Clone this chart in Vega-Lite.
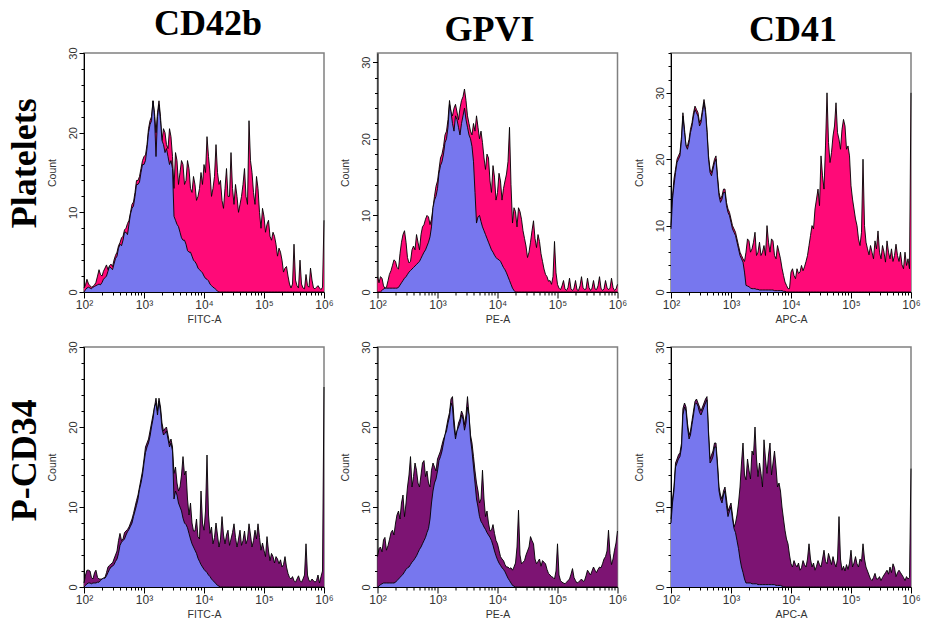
{
  "$schema": "https://vega.github.io/schema/vega-lite/v6.json",
  "background": "white",
  "padding": {"left": 7, "top": 5, "right": 0, "bottom": 0},
  "config": {
    "view": {"stroke": "#808080", "strokeWidth": 1.5},
    "title": {"font": "Liberation Serif", "fontSize": 36, "fontWeight": "bold", "color": "#000", "offset": 4},
    "area": {"opacity": 1, "fillOpacity": 1},
    "axis": {"grid": false, "labelFont": "Liberation Sans", "titleFont": "Liberation Sans", "labelFontSize": 12, "titleFontSize": 10.5, "titleFontWeight": "normal", "labelColor": "#333", "titleColor": "#333", "domainColor": "#000", "tickColor": "#000", "labelOverlap": false, "labelFlush": false},
    "axisY": {"labelAngle": 270, "labelAlign": "center", "labelBaseline": "bottom", "labelPadding": 1, "titlePadding": 10, "labelFontSize": 11},
    "axisX": {"labelPadding": 1, "titlePadding": 4}
  },
  "datasets": {
    "p1": [
      {"x":100,"c":0,"s":0.5},{"x":106,"c":0.3,"s":0.9},{"x":112,"c":0.5,"s":1.6},{"x":119,"c":0.6,"s":1},{"x":126,"c":0.5,"s":0.8},{"x":133,"c":0.4,"s":0.6},{"x":141,"c":0.6,"s":0.7},{"x":150,"c":0.7,"s":0.9},{"x":158,"c":0.8,"s":1.2},{"x":168,"c":0.9,"s":2},
      {"x":178,"c":1,"s":2.8},{"x":188,"c":0.9,"s":2.2},{"x":200,"c":1.2,"s":2},{"x":211,"c":1.6,"s":2.6},{"x":224,"c":1.8,"s":3},{"x":237,"c":2,"s":3.4},{"x":251,"c":2.6,"s":2.8},{"x":266,"c":3.2,"s":3.3},{"x":282,"c":3,"s":3.5},{"x":299,"c":2.8,"s":3.2},
      {"x":316,"c":3.5,"s":4},{"x":335,"c":4.2,"s":4.6},{"x":355,"c":4.5,"s":5},{"x":376,"c":5.5,"s":5.8},{"x":398,"c":6,"s":6.2},{"x":422,"c":5.8,"s":6.8},{"x":447,"c":6.5,"s":7},{"x":473,"c":7.5,"s":7.8},{"x":501,"c":7.5,"s":8},{"x":531,"c":7.2,"s":8.6},
      {"x":562,"c":8.5,"s":9},{"x":596,"c":9.8,"s":10},{"x":631,"c":10.5,"s":11},{"x":668,"c":10.8,"s":11.3},{"x":708,"c":12,"s":12.5},{"x":750,"c":13.5,"s":14},{"x":794,"c":13.5,"s":14},{"x":841,"c":13.8,"s":14.5},{"x":891,"c":15,"s":15.5},{"x":944,"c":16,"s":16.5},
      {"x":1000,"c":16,"s":17},{"x":1059,"c":16.5,"s":17.2},{"x":1122,"c":18,"s":18.5},{"x":1189,"c":20,"s":20.5},{"x":1259,"c":21,"s":21.5},{"x":1334,"c":21.5,"s":22},{"x":1413,"c":24,"s":24},{"x":1496,"c":22,"s":22.5},{"x":1585,"c":17,"s":20},{"x":1679,"c":22,"s":22.5},
      {"x":1778,"c":23.5,"s":24},{"x":1884,"c":21.5,"s":22},{"x":1995,"c":19,"s":19},{"x":2113,"c":18.5,"s":20.5},{"x":2239,"c":17.5,"s":20},{"x":2371,"c":18,"s":18.5},{"x":2512,"c":17,"s":18},{"x":2661,"c":16,"s":20.5},{"x":2818,"c":16.5,"s":19.5},{"x":2985,"c":15.5,"s":17},
      {"x":3162,"c":9.5,"s":13},{"x":3350,"c":9,"s":17.5},{"x":3548,"c":8.5,"s":16.5},{"x":3758,"c":8.2,"s":13.5},{"x":3981,"c":7.5,"s":15},{"x":4217,"c":6.8,"s":16.5},{"x":4467,"c":6.5,"s":16},{"x":4732,"c":6.5,"s":13.5},{"x":5012,"c":6,"s":14},{"x":5309,"c":5.2,"s":16.5},
      {"x":5623,"c":5,"s":15.5},{"x":5957,"c":5,"s":13},{"x":6310,"c":4.5,"s":12.5},{"x":6683,"c":4,"s":14.5},{"x":7079,"c":3.8,"s":13.5},{"x":7499,"c":3.5,"s":11.5},{"x":7943,"c":3,"s":12},{"x":8414,"c":2.8,"s":13},{"x":8913,"c":2.6,"s":15},{"x":9441,"c":2.4,"s":13.5},
      {"x":10000,"c":2,"s":16},{"x":10593,"c":1.7,"s":15},{"x":11220,"c":1.6,"s":19.5},{"x":11885,"c":1.4,"s":17},{"x":12589,"c":1,"s":15},{"x":13335,"c":0.8,"s":12},{"x":14125,"c":0.6,"s":13},{"x":14962,"c":0.5,"s":14.5},{"x":15849,"c":0.3,"s":18.5},{"x":16788,"c":0.1,"s":15},
      {"x":17783,"c":0,"s":13.5},{"x":18836,"c":0,"s":14},{"x":19953,"c":0,"s":11.5},{"x":21135,"c":0,"s":10.5},{"x":22387,"c":0,"s":13},{"x":23714,"c":0,"s":15.5},{"x":25119,"c":0,"s":12},{"x":26607,"c":0,"s":12},{"x":28184,"c":0,"s":17.5},{"x":29854,"c":0,"s":13},
      {"x":31623,"c":0,"s":11},{"x":33497,"c":0,"s":13.5},{"x":35481,"c":0,"s":12},{"x":37584,"c":0,"s":10},{"x":39811,"c":0,"s":11},{"x":42170,"c":0,"s":12},{"x":44668,"c":0,"s":13.5},{"x":47315,"c":0,"s":15.5},{"x":50119,"c":0,"s":12},{"x":53088,"c":0,"s":11},
      {"x":56234,"c":0,"s":21.5},{"x":59566,"c":0,"s":16.5},{"x":63096,"c":0,"s":15},{"x":66834,"c":0,"s":12.5},{"x":70795,"c":0,"s":11},{"x":74989,"c":0,"s":14.5},{"x":79433,"c":0,"s":13},{"x":84140,"c":0,"s":10},{"x":89125,"c":0,"s":8},{"x":94406,"c":0,"s":10.5},
      {"x":100000,"c":0,"s":9.5},{"x":105925,"c":0,"s":7.5},{"x":112202,"c":0,"s":8.5},{"x":118850,"c":0,"s":9},{"x":125893,"c":0,"s":7},{"x":133352,"c":0,"s":6.5},{"x":141254,"c":0,"s":7.5},{"x":149624,"c":0,"s":7},{"x":158489,"c":0,"s":6},{"x":167880,"c":0,"s":4.5},
      {"x":177828,"c":0,"s":5.5},{"x":188365,"c":0,"s":5},{"x":199526,"c":0,"s":4},{"x":211349,"c":0,"s":2.5},{"x":223872,"c":0,"s":3},{"x":237137,"c":0,"s":3.2},{"x":251189,"c":0,"s":2},{"x":266073,"c":0,"s":1},{"x":281838,"c":0,"s":0.5},{"x":298538,"c":0,"s":1},
      {"x":316228,"c":0,"s":6},{"x":334965,"c":0,"s":1.5},{"x":354813,"c":0,"s":0.8},{"x":375837,"c":0,"s":0.5},{"x":398107,"c":0,"s":4},{"x":421697,"c":0,"s":1},{"x":446684,"c":0,"s":0.5},{"x":473151,"c":0,"s":0.4},{"x":501187,"c":0,"s":2.2},{"x":530884,"c":0,"s":0.8},
      {"x":562341,"c":0,"s":0.6},{"x":595662,"c":0,"s":3},{"x":630957,"c":0,"s":1.5},{"x":668344,"c":0,"s":0.5},{"x":707946,"c":0,"s":0.4},{"x":749894,"c":0,"s":0.6},{"x":794328,"c":0,"s":0.8},{"x":841395,"c":0,"s":0.5},{"x":891251,"c":0,"s":0.3},{"x":944061,"c":0,"s":0.6},
      {"x":1000000,"c":0,"s":9}
    ],
    "p2": [
      {"x":100,"c":0,"s":2},{"x":106,"c":0,"s":1.2},{"x":112,"c":0,"s":2},{"x":119,"c":0.2,"s":1.8},{"x":126,"c":0.4,"s":0.8},{"x":133,"c":0.5,"s":0.5},{"x":141,"c":0.5,"s":0.6},{"x":150,"c":0.5,"s":1.5},{"x":158,"c":0.5,"s":2.3},{"x":168,"c":0.5,"s":2.8},
      {"x":178,"c":0.5,"s":3.5},{"x":188,"c":0.5,"s":4.2},{"x":200,"c":0.5,"s":4},{"x":211,"c":0.5,"s":3.2},{"x":224,"c":0.6,"s":3},{"x":237,"c":0.9,"s":5},{"x":251,"c":1.2,"s":6.5},{"x":266,"c":1.5,"s":7.5},{"x":282,"c":1.8,"s":8},{"x":299,"c":2,"s":6.5},
      {"x":316,"c":2.3,"s":4.5},{"x":335,"c":2.6,"s":3.8},{"x":355,"c":2.8,"s":4},{"x":376,"c":3,"s":5.5},{"x":398,"c":3.2,"s":6},{"x":422,"c":3.4,"s":5.5},{"x":447,"c":3.6,"s":7.5},{"x":473,"c":3.8,"s":6.5},{"x":501,"c":4,"s":5.5},{"x":531,"c":4.4,"s":7.5},
      {"x":562,"c":4.8,"s":8.5},{"x":596,"c":5.2,"s":8.8},{"x":631,"c":5.5,"s":9.5},{"x":668,"c":6,"s":10},{"x":708,"c":6.5,"s":9.8},{"x":750,"c":7.2,"s":8.8},{"x":794,"c":8.5,"s":9.5},{"x":841,"c":11,"s":11},{"x":891,"c":12,"s":12.5},{"x":944,"c":12.5,"s":13.8},
      {"x":1000,"c":13.5,"s":14.5},{"x":1059,"c":15.5,"s":16},{"x":1122,"c":16.5,"s":17.5},{"x":1189,"c":17,"s":18},{"x":1259,"c":18,"s":19},{"x":1334,"c":19.5,"s":20.5},{"x":1413,"c":20,"s":21},{"x":1496,"c":21.5,"s":22.5},{"x":1585,"c":24.5,"s":25},{"x":1679,"c":23.5,"s":23.5},
      {"x":1778,"c":22,"s":23},{"x":1884,"c":21,"s":24},{"x":1995,"c":23,"s":24.5},{"x":2113,"c":22.5,"s":23.5},{"x":2239,"c":21.5,"s":22.5},{"x":2371,"c":20.5,"s":24},{"x":2512,"c":22,"s":25},{"x":2661,"c":23,"s":25.5},{"x":2818,"c":24,"s":26.5},{"x":2985,"c":22.5,"s":25},
      {"x":3162,"c":21.5,"s":23},{"x":3350,"c":20.5,"s":22},{"x":3548,"c":20,"s":21},{"x":3758,"c":19,"s":20.5},{"x":3981,"c":17,"s":22},{"x":4217,"c":13,"s":21},{"x":4467,"c":9,"s":23},{"x":4732,"c":9.8,"s":21.5},{"x":5012,"c":10,"s":20},{"x":5309,"c":9.2,"s":21},
      {"x":5623,"c":8.5,"s":19.5},{"x":5957,"c":8,"s":17.5},{"x":6310,"c":7.5,"s":16},{"x":6683,"c":7,"s":18},{"x":7079,"c":6.5,"s":17.5},{"x":7499,"c":6,"s":14.5},{"x":7943,"c":5.5,"s":13},{"x":8414,"c":5.2,"s":16.5},{"x":8913,"c":4.8,"s":15},{"x":9441,"c":4.5,"s":12},
      {"x":10000,"c":4.3,"s":13},{"x":10593,"c":4.2,"s":15.5},{"x":11220,"c":4,"s":14.5},{"x":11885,"c":3.6,"s":12},{"x":12589,"c":3.2,"s":13.5},{"x":13335,"c":2.9,"s":14.5},{"x":14125,"c":2.5,"s":15.4},{"x":14962,"c":2,"s":17},{"x":15849,"c":1.5,"s":21.5},{"x":16788,"c":1,"s":14},
      {"x":17783,"c":0.5,"s":9},{"x":18836,"c":0.2,"s":11},{"x":19953,"c":0,"s":10.5},{"x":21135,"c":0,"s":8.5},{"x":22387,"c":0,"s":11},{"x":23714,"c":0,"s":10.5},{"x":25119,"c":0,"s":9.5},{"x":26607,"c":0,"s":8},{"x":28184,"c":0,"s":7},{"x":29854,"c":0,"s":6},
      {"x":31623,"c":0,"s":4.5},{"x":33497,"c":0,"s":5.2},{"x":35481,"c":0,"s":6.5},{"x":37584,"c":0,"s":8},{"x":39811,"c":0,"s":9.3},{"x":42170,"c":0,"s":7},{"x":44668,"c":0,"s":5.8},{"x":47315,"c":0,"s":7.5},{"x":50119,"c":0,"s":6.6},{"x":53088,"c":0,"s":5},
      {"x":56234,"c":0,"s":4},{"x":59566,"c":0,"s":3},{"x":63096,"c":0,"s":2.3},{"x":66834,"c":0,"s":2},{"x":70795,"c":0,"s":1.4},{"x":74989,"c":0,"s":1.5},{"x":79433,"c":0,"s":1},{"x":84140,"c":0,"s":2},{"x":89125,"c":0,"s":6.6},{"x":94406,"c":0,"s":2.5},
      {"x":100000,"c":0,"s":1},{"x":105925,"c":0,"s":0.5},{"x":112202,"c":0,"s":0.3},{"x":118850,"c":0,"s":0.8},{"x":125893,"c":0,"s":1.5},{"x":133352,"c":0,"s":0.4},{"x":141254,"c":0,"s":0.2},{"x":149624,"c":0,"s":0.6},{"x":158489,"c":0,"s":1.8},{"x":167880,"c":0,"s":0.4},
      {"x":177828,"c":0,"s":0.2},{"x":188365,"c":0,"s":0.5},{"x":199526,"c":0,"s":1.5},{"x":211349,"c":0,"s":0.3},{"x":223872,"c":0,"s":0.2},{"x":237137,"c":0,"s":0.8},{"x":251189,"c":0,"s":2},{"x":266073,"c":0,"s":0.6},{"x":281838,"c":0,"s":0.3},{"x":298538,"c":0,"s":0.4},
      {"x":316228,"c":0,"s":1.8},{"x":334965,"c":0,"s":0.6},{"x":354813,"c":0,"s":0.2},{"x":375837,"c":0,"s":0.5},{"x":398107,"c":0,"s":1.5},{"x":421697,"c":0,"s":0.4},{"x":446684,"c":0,"s":0.3},{"x":473151,"c":0,"s":0.8},{"x":501187,"c":0,"s":2},{"x":530884,"c":0,"s":0.5},
      {"x":562341,"c":0,"s":0.2},{"x":595662,"c":0,"s":0.4},{"x":630957,"c":0,"s":1.5},{"x":668344,"c":0,"s":0.6},{"x":707946,"c":0,"s":0.3},{"x":749894,"c":0,"s":0.5},{"x":794328,"c":0,"s":1.8},{"x":841395,"c":0,"s":0.6},{"x":891251,"c":0,"s":0.2},{"x":944061,"c":0,"s":0.4},
      {"x":1000000,"c":0,"s":1}
    ],
    "p3": [
      {"x":100,"c":9.5,"s":10},{"x":106,"c":14,"s":14.5},{"x":112,"c":16,"s":17},{"x":119,"c":18,"s":18.5},{"x":126,"c":19.5,"s":20},{"x":133,"c":20,"s":20.5},{"x":141,"c":20.5,"s":21},{"x":150,"c":23,"s":23.5},{"x":158,"c":26.5,"s":27},{"x":168,"c":24,"s":24.5},
      {"x":178,"c":22,"s":22},{"x":188,"c":21.5,"s":22},{"x":200,"c":22.5,"s":23},{"x":211,"c":24,"s":24.5},{"x":224,"c":25,"s":25.5},{"x":237,"c":26.5,"s":27},{"x":251,"c":27.5,"s":28},{"x":266,"c":27,"s":27.5},{"x":282,"c":26.5,"s":27},{"x":299,"c":25,"s":25.5},
      {"x":316,"c":25.5,"s":26},{"x":335,"c":27,"s":27.5},{"x":355,"c":28.5,"s":29},{"x":376,"c":27,"s":27.5},{"x":398,"c":24,"s":24.5},{"x":422,"c":20,"s":20.5},{"x":447,"c":18,"s":18.5},{"x":473,"c":17.5,"s":18},{"x":501,"c":18.5,"s":19},{"x":531,"c":19.5,"s":20},
      {"x":562,"c":20,"s":20.5},{"x":596,"c":17,"s":17.5},{"x":631,"c":14.5,"s":15},{"x":668,"c":13.5,"s":14},{"x":708,"c":14,"s":14.5},{"x":750,"c":15,"s":15.5},{"x":794,"c":15,"s":15.5},{"x":841,"c":13,"s":13.5},{"x":891,"c":12,"s":12.5},{"x":944,"c":11.5,"s":12},
      {"x":1000,"c":10.5,"s":11},{"x":1059,"c":9.5,"s":10},{"x":1122,"c":9,"s":9.5},{"x":1189,"c":8.5,"s":9},{"x":1259,"c":7.5,"s":8},{"x":1334,"c":6.5,"s":7},{"x":1413,"c":5.5,"s":6},{"x":1496,"c":5,"s":5.5},{"x":1585,"c":4.5,"s":5},{"x":1679,"c":3,"s":4.6},
      {"x":1778,"c":1,"s":6},{"x":1884,"c":0.9,"s":8},{"x":1995,"c":0.8,"s":7.7},{"x":2113,"c":0.6,"s":6},{"x":2239,"c":0.5,"s":6.5},{"x":2371,"c":0.5,"s":7.5},{"x":2512,"c":0.5,"s":9},{"x":2661,"c":0.4,"s":5.5},{"x":2818,"c":0.4,"s":6},{"x":2985,"c":0.3,"s":7.5},
      {"x":3162,"c":0.3,"s":5.5},{"x":3350,"c":0.3,"s":6},{"x":3548,"c":0.3,"s":7},{"x":3758,"c":0.3,"s":5.5},{"x":3981,"c":0.3,"s":10},{"x":4217,"c":0.3,"s":7.5},{"x":4467,"c":0.3,"s":6},{"x":4732,"c":0.3,"s":8},{"x":5012,"c":0.3,"s":7.7},{"x":5309,"c":0.2,"s":5.5},
      {"x":5623,"c":0.2,"s":5},{"x":5957,"c":0.2,"s":7},{"x":6310,"c":0.2,"s":6},{"x":6683,"c":0.2,"s":5},{"x":7079,"c":0.2,"s":3.6},{"x":7499,"c":0.1,"s":2.5},{"x":7943,"c":0.1,"s":1.5},{"x":8414,"c":0,"s":1},{"x":8913,"c":0,"s":0.5},{"x":9441,"c":0,"s":0.5},
      {"x":10000,"c":0,"s":3},{"x":10593,"c":0,"s":3.5},{"x":11220,"c":0,"s":2.5},{"x":11885,"c":0,"s":2},{"x":12589,"c":0,"s":3.5},{"x":13335,"c":0,"s":2.8},{"x":14125,"c":0,"s":3},{"x":14962,"c":0,"s":4},{"x":15849,"c":0,"s":3.2},{"x":16788,"c":0,"s":3.8},
      {"x":17783,"c":0,"s":4.6},{"x":18836,"c":0,"s":5.5},{"x":19953,"c":0,"s":7},{"x":21135,"c":0,"s":8.5},{"x":22387,"c":0,"s":10},{"x":23714,"c":0,"s":9.5},{"x":25119,"c":0,"s":12.5},{"x":26607,"c":0,"s":14},{"x":28184,"c":0,"s":15.5},{"x":29854,"c":0,"s":13},
      {"x":31623,"c":0,"s":20.5},{"x":33497,"c":0,"s":17.5},{"x":35481,"c":0,"s":15.5},{"x":37584,"c":0,"s":22},{"x":39811,"c":0,"s":30},{"x":42170,"c":0,"s":22.5},{"x":44668,"c":0,"s":19.5},{"x":47315,"c":0,"s":21},{"x":50119,"c":0,"s":23.5},{"x":53088,"c":0,"s":25},
      {"x":56234,"c":0,"s":28.5},{"x":59566,"c":0,"s":24},{"x":63096,"c":0,"s":23},{"x":66834,"c":0,"s":21.5},{"x":70795,"c":0,"s":24.5},{"x":74989,"c":0,"s":26},{"x":79433,"c":0,"s":25},{"x":84140,"c":0,"s":21.5},{"x":89125,"c":0,"s":22},{"x":94406,"c":0,"s":20.5},
      {"x":100000,"c":0,"s":16},{"x":105925,"c":0,"s":14},{"x":112202,"c":0,"s":12.5},{"x":118850,"c":0,"s":11},{"x":125893,"c":0,"s":10},{"x":133352,"c":0,"s":8},{"x":141254,"c":0,"s":7},{"x":149624,"c":0,"s":9},{"x":158489,"c":0,"s":20},{"x":167880,"c":0,"s":10},
      {"x":177828,"c":0,"s":7.5},{"x":188365,"c":0,"s":6.5},{"x":199526,"c":0,"s":5.6},{"x":211349,"c":0,"s":7},{"x":223872,"c":0,"s":6},{"x":237137,"c":0,"s":5},{"x":251189,"c":0,"s":7.7},{"x":266073,"c":0,"s":6.5},{"x":281838,"c":0,"s":9.2},{"x":298538,"c":0,"s":6},
      {"x":316228,"c":0,"s":5},{"x":334965,"c":0,"s":7},{"x":354813,"c":0,"s":6},{"x":375837,"c":0,"s":4.5},{"x":398107,"c":0,"s":7.7},{"x":421697,"c":0,"s":6},{"x":446684,"c":0,"s":5},{"x":473151,"c":0,"s":6.5},{"x":501187,"c":0,"s":4.6},{"x":530884,"c":0,"s":5.5},
      {"x":562341,"c":0,"s":7.2},{"x":595662,"c":0,"s":5.5},{"x":630957,"c":0,"s":4.6},{"x":668344,"c":0,"s":6},{"x":707946,"c":0,"s":4.1},{"x":749894,"c":0,"s":3.5},{"x":794328,"c":0,"s":6},{"x":841395,"c":0,"s":4},{"x":891251,"c":0,"s":5},{"x":944061,"c":0,"s":3.5},
      {"x":1000000,"c":0,"s":30}
    ],
    "p4": [
      {"x":100,"c":0,"s":0.5},{"x":106,"c":0.2,"s":1.5},{"x":112,"c":0.4,"s":2.1},{"x":119,"c":0.5,"s":2.1},{"x":126,"c":0.5,"s":2},{"x":133,"c":0.4,"s":1.2},{"x":141,"c":0.5,"s":1},{"x":150,"c":0.5,"s":1.8},{"x":158,"c":0.5,"s":2.1},{"x":168,"c":0.6,"s":1.2},
      {"x":178,"c":0.6,"s":1},{"x":188,"c":0.8,"s":1},{"x":200,"c":1,"s":1},{"x":211,"c":1.1,"s":1.1},{"x":224,"c":1.1,"s":1.2},{"x":237,"c":1.4,"s":1.8},{"x":251,"c":1.8,"s":2.5},{"x":266,"c":2.2,"s":2.7},{"x":282,"c":2.5,"s":2.9},{"x":299,"c":2.6,"s":3},
      {"x":316,"c":2.8,"s":3.5},{"x":335,"c":3.2,"s":4},{"x":355,"c":3.5,"s":4.5},{"x":376,"c":4.2,"s":5.8},{"x":398,"c":5.2,"s":6.7},{"x":422,"c":5.6,"s":5.8},{"x":447,"c":5.8,"s":6},{"x":473,"c":6,"s":6.8},{"x":501,"c":6.5,"s":7},{"x":531,"c":6.9,"s":7.2},
      {"x":562,"c":7.2,"s":7.5},{"x":596,"c":7.6,"s":8},{"x":631,"c":8,"s":8.5},{"x":668,"c":8.8,"s":9.2},{"x":708,"c":9.5,"s":10},{"x":750,"c":10.2,"s":10.8},{"x":794,"c":11,"s":11.5},{"x":841,"c":12.2,"s":12.5},{"x":891,"c":13,"s":13.5},{"x":944,"c":14,"s":14.5},
      {"x":1000,"c":15.5,"s":16},{"x":1059,"c":16.8,"s":17.5},{"x":1122,"c":17.5,"s":18},{"x":1189,"c":18,"s":18.5},{"x":1259,"c":18.8,"s":19.5},{"x":1334,"c":20,"s":20.5},{"x":1413,"c":21,"s":21.5},{"x":1496,"c":22.5,"s":22.5},{"x":1585,"c":23,"s":23.6},{"x":1679,"c":21.5,"s":22},
      {"x":1778,"c":23.2,"s":23.6},{"x":1884,"c":22,"s":22.5},{"x":1995,"c":19.8,"s":20.5},{"x":2113,"c":19,"s":19.5},{"x":2239,"c":19.2,"s":19.8},{"x":2371,"c":19.5,"s":20},{"x":2512,"c":18.5,"s":19},{"x":2661,"c":17.5,"s":18},{"x":2818,"c":18,"s":18.5},{"x":2985,"c":17,"s":17.5},
      {"x":3162,"c":11,"s":14.2},{"x":3350,"c":12,"s":15},{"x":3548,"c":11.5,"s":13},{"x":3758,"c":10.5,"s":12},{"x":3981,"c":10,"s":12.5},{"x":4217,"c":9.5,"s":14},{"x":4467,"c":8.6,"s":16.3},{"x":4732,"c":8,"s":14},{"x":5012,"c":7.8,"s":14.5},{"x":5309,"c":7.4,"s":11},
      {"x":5623,"c":6.7,"s":9},{"x":5957,"c":6,"s":10.5},{"x":6310,"c":5.4,"s":8},{"x":6683,"c":5,"s":7},{"x":7079,"c":4.6,"s":7},{"x":7499,"c":4.2,"s":8.5},{"x":7943,"c":3.6,"s":6.3},{"x":8414,"c":3.2,"s":6},{"x":8913,"c":2.8,"s":12},{"x":9441,"c":2.5,"s":8},
      {"x":10000,"c":2.2,"s":7.1},{"x":10593,"c":2,"s":9.5},{"x":11220,"c":1.8,"s":16.5},{"x":11885,"c":1.5,"s":9},{"x":12589,"c":1.3,"s":6.7},{"x":13335,"c":1,"s":7.5},{"x":14125,"c":0.8,"s":5.4},{"x":14962,"c":0.6,"s":6.2},{"x":15849,"c":0.4,"s":8},{"x":16788,"c":0.2,"s":6.5},
      {"x":17783,"c":0.1,"s":5},{"x":18836,"c":0,"s":6},{"x":19953,"c":0,"s":8.8},{"x":21135,"c":0,"s":6.5},{"x":22387,"c":0,"s":5.4},{"x":23714,"c":0,"s":6.5},{"x":25119,"c":0,"s":7.1},{"x":26607,"c":0,"s":5.2},{"x":28184,"c":0,"s":6},{"x":29854,"c":0,"s":6.8},
      {"x":31623,"c":0,"s":7.9},{"x":33497,"c":0,"s":6.2},{"x":35481,"c":0,"s":5},{"x":37584,"c":0,"s":6},{"x":39811,"c":0,"s":7.1},{"x":42170,"c":0,"s":5.2},{"x":44668,"c":0,"s":5.8},{"x":47315,"c":0,"s":7},{"x":50119,"c":0,"s":5.4},{"x":53088,"c":0,"s":6},
      {"x":56234,"c":0,"s":7.9},{"x":59566,"c":0,"s":6.5},{"x":63096,"c":0,"s":5},{"x":66834,"c":0,"s":5.8},{"x":70795,"c":0,"s":7.1},{"x":74989,"c":0,"s":6},{"x":79433,"c":0,"s":7.9},{"x":84140,"c":0,"s":6.2},{"x":89125,"c":0,"s":4.6},{"x":94406,"c":0,"s":5.5},
      {"x":100000,"c":0,"s":4.6},{"x":105925,"c":0,"s":3.8},{"x":112202,"c":0,"s":6.3},{"x":118850,"c":0,"s":4.5},{"x":125893,"c":0,"s":3.3},{"x":133352,"c":0,"s":4.2},{"x":141254,"c":0,"s":3.8},{"x":149624,"c":0,"s":3},{"x":158489,"c":0,"s":3.8},{"x":167880,"c":0,"s":3.5},
      {"x":177828,"c":0,"s":2.9},{"x":188365,"c":0,"s":3.4},{"x":199526,"c":0,"s":2.5},{"x":211349,"c":0,"s":2.8},{"x":223872,"c":0,"s":3.8},{"x":237137,"c":0,"s":2.5},{"x":251189,"c":0,"s":1.7},{"x":266073,"c":0,"s":1.2},{"x":281838,"c":0,"s":1},{"x":298538,"c":0,"s":1.3},
      {"x":316228,"c":0,"s":0.8},{"x":334965,"c":0,"s":0.6},{"x":354813,"c":0,"s":1},{"x":375837,"c":0,"s":1.4},{"x":398107,"c":0,"s":0.8},{"x":421697,"c":0,"s":0.6},{"x":446684,"c":0,"s":1},{"x":473151,"c":0,"s":1.5},{"x":501187,"c":0,"s":5.4},{"x":530884,"c":0,"s":1.5},
      {"x":562341,"c":0,"s":0.8},{"x":595662,"c":0,"s":0.7},{"x":630957,"c":0,"s":1},{"x":668344,"c":0,"s":0.8},{"x":707946,"c":0,"s":0.6},{"x":749894,"c":0,"s":0.8},{"x":794328,"c":0,"s":1.5},{"x":841395,"c":0,"s":0.5},{"x":891251,"c":0,"s":1.3},{"x":944061,"c":0,"s":2},
      {"x":1000000,"c":0,"s":25}
    ],
    "p5": [
      {"x":100,"c":0,"s":3.8},{"x":106,"c":0.1,"s":4.8},{"x":112,"c":0.3,"s":5},{"x":119,"c":0.4,"s":4.4},{"x":126,"c":0.5,"s":5.9},{"x":133,"c":0.5,"s":6.2},{"x":141,"c":0.5,"s":4.6},{"x":150,"c":0.5,"s":5.2},{"x":158,"c":0.5,"s":5.9},{"x":168,"c":0.5,"s":6.8},
      {"x":178,"c":0.5,"s":7.1},{"x":188,"c":0.5,"s":6.5},{"x":200,"c":0.6,"s":8},{"x":211,"c":0.8,"s":9},{"x":224,"c":1,"s":9.5},{"x":237,"c":1.2,"s":8.5},{"x":251,"c":1.4,"s":10.5},{"x":266,"c":1.6,"s":11.5},{"x":282,"c":1.9,"s":8.8},{"x":299,"c":2.2,"s":10.5},
      {"x":316,"c":2.4,"s":12.5},{"x":335,"c":2.5,"s":14},{"x":355,"c":2.8,"s":16.3},{"x":376,"c":3.1,"s":12.5},{"x":398,"c":3.3,"s":13.8},{"x":422,"c":3.6,"s":15.5},{"x":447,"c":3.9,"s":14.6},{"x":473,"c":4.3,"s":13},{"x":501,"c":4.7,"s":12.5},{"x":531,"c":5,"s":14},
      {"x":562,"c":5.4,"s":15.5},{"x":596,"c":5.8,"s":15.8},{"x":631,"c":6.2,"s":13.8},{"x":668,"c":6.8,"s":14.5},{"x":708,"c":7.3,"s":13},{"x":750,"c":8.5,"s":12.5},{"x":794,"c":10.5,"s":14.6},{"x":841,"c":12,"s":15.5},{"x":891,"c":13,"s":15},{"x":944,"c":13.5,"s":14.5},
      {"x":1000,"c":14.5,"s":16},{"x":1059,"c":15.8,"s":16.5},{"x":1122,"c":16.3,"s":17},{"x":1189,"c":17,"s":17.8},{"x":1259,"c":18,"s":18.5},{"x":1334,"c":19,"s":19},{"x":1413,"c":19.5,"s":20},{"x":1496,"c":20.5,"s":21},{"x":1585,"c":21.3,"s":21.8},{"x":1679,"c":23,"s":23.5},
      {"x":1778,"c":22.5,"s":23.8},{"x":1884,"c":20,"s":21},{"x":1995,"c":18.5,"s":19},{"x":2113,"c":19.5,"s":19.5},{"x":2239,"c":20,"s":20.5},{"x":2371,"c":20.5,"s":21},{"x":2512,"c":21.5,"s":22},{"x":2661,"c":21,"s":21.5},{"x":2818,"c":19.6,"s":20.3},{"x":2985,"c":20.5,"s":21.5},
      {"x":3162,"c":22.5,"s":23.8},{"x":3350,"c":21.5,"s":21.5},{"x":3548,"c":18.5,"s":19},{"x":3758,"c":17,"s":18},{"x":3981,"c":15,"s":16.3},{"x":4217,"c":13,"s":14.5},{"x":4467,"c":11,"s":13},{"x":4732,"c":10,"s":12},{"x":5012,"c":8.8,"s":10.5},{"x":5309,"c":8.2,"s":11},
      {"x":5623,"c":7.9,"s":14.6},{"x":5957,"c":7.5,"s":11},{"x":6310,"c":7.2,"s":8.8},{"x":6683,"c":6.8,"s":9.5},{"x":7079,"c":6.5,"s":8},{"x":7499,"c":6.2,"s":7},{"x":7943,"c":5.8,"s":7.1},{"x":8414,"c":5.2,"s":7.8},{"x":8913,"c":4.5,"s":6.7},{"x":9441,"c":3.9,"s":5.8},
      {"x":10000,"c":3.4,"s":5.4},{"x":10593,"c":3,"s":4.6},{"x":11220,"c":2.7,"s":3.8},{"x":11885,"c":2.4,"s":3.5},{"x":12589,"c":2.2,"s":3.3},{"x":13335,"c":1.9,"s":2.8},{"x":14125,"c":1.5,"s":2.5},{"x":14962,"c":1.1,"s":2.5},{"x":15849,"c":0.8,"s":2.3},{"x":16788,"c":0.5,"s":2.4},
      {"x":17783,"c":0.2,"s":2.1},{"x":18836,"c":0.1,"s":2.5},{"x":19953,"c":0,"s":3},{"x":21135,"c":0,"s":5},{"x":22387,"c":0,"s":9.6},{"x":23714,"c":0,"s":4},{"x":25119,"c":0,"s":2.9},{"x":26607,"c":0,"s":3.1},{"x":28184,"c":0,"s":3.3},{"x":29854,"c":0,"s":4},
      {"x":31623,"c":0,"s":4.5},{"x":33497,"c":0,"s":5},{"x":35481,"c":0,"s":6.3},{"x":37584,"c":0,"s":5.8},{"x":39811,"c":0,"s":5.4},{"x":42170,"c":0,"s":3.5},{"x":44668,"c":0,"s":2.9},{"x":47315,"c":0,"s":3.2},{"x":50119,"c":0,"s":3.5},{"x":53088,"c":0,"s":2.6},
      {"x":56234,"c":0,"s":3.3},{"x":59566,"c":0,"s":3.1},{"x":63096,"c":0,"s":2.9},{"x":66834,"c":0,"s":2.2},{"x":70795,"c":0,"s":1.7},{"x":74989,"c":0,"s":1.5},{"x":79433,"c":0,"s":1.3},{"x":84140,"c":0,"s":1.2},{"x":89125,"c":0,"s":1},{"x":94406,"c":0,"s":2},
      {"x":100000,"c":0,"s":5.4},{"x":105925,"c":0,"s":1.5},{"x":112202,"c":0,"s":0.8},{"x":118850,"c":0,"s":0.6},{"x":125893,"c":0,"s":0.5},{"x":133352,"c":0,"s":0.4},{"x":141254,"c":0,"s":0.6},{"x":149624,"c":0,"s":0.8},{"x":158489,"c":0,"s":1},{"x":167880,"c":0,"s":1.6},
      {"x":177828,"c":0,"s":2.3},{"x":188365,"c":0,"s":1.2},{"x":199526,"c":0,"s":0.8},{"x":211349,"c":0,"s":0.5},{"x":223872,"c":0,"s":0.6},{"x":237137,"c":0,"s":0.8},{"x":251189,"c":0,"s":1},{"x":266073,"c":0,"s":0.7},{"x":281838,"c":0,"s":0.8},{"x":298538,"c":0,"s":1.4},
      {"x":316228,"c":0,"s":2.1},{"x":334965,"c":0,"s":1.8},{"x":354813,"c":0,"s":1.5},{"x":375837,"c":0,"s":2},{"x":398107,"c":0,"s":2.5},{"x":421697,"c":0,"s":2.1},{"x":446684,"c":0,"s":1.8},{"x":473151,"c":0,"s":2.2},{"x":501187,"c":0,"s":2.5},{"x":530884,"c":0,"s":2.4},
      {"x":562341,"c":0,"s":2.9},{"x":595662,"c":0,"s":3.5},{"x":630957,"c":0,"s":3.8},{"x":668344,"c":0,"s":4.5},{"x":707946,"c":0,"s":7.1},{"x":749894,"c":0,"s":4.2},{"x":794328,"c":0,"s":2.8},{"x":841395,"c":0,"s":3.5},{"x":891251,"c":0,"s":4.6},{"x":944061,"c":0,"s":5.5},
      {"x":1000000,"c":0,"s":7}
    ],
    "p6": [
      {"x":100,"c":8,"s":8.5},{"x":106,"c":10.5,"s":11},{"x":112,"c":12,"s":12.5},{"x":119,"c":15,"s":15.5},{"x":126,"c":15.5,"s":16},{"x":133,"c":16,"s":16.5},{"x":141,"c":16.3,"s":16.8},{"x":150,"c":17.5,"s":18},{"x":158,"c":21.5,"s":22.3},{"x":168,"c":22.5,"s":23},
      {"x":178,"c":22,"s":22.5},{"x":188,"c":20,"s":20.5},{"x":200,"c":18.5,"s":19},{"x":211,"c":19,"s":19.5},{"x":224,"c":20.3,"s":20.8},{"x":237,"c":21.5,"s":22},{"x":251,"c":22.8,"s":23.2},{"x":266,"c":23,"s":23.5},{"x":282,"c":22.6,"s":23},{"x":299,"c":21.8,"s":22.5},
      {"x":316,"c":21.5,"s":22},{"x":335,"c":22,"s":22.5},{"x":355,"c":22.5,"s":23},{"x":376,"c":23,"s":23.5},{"x":398,"c":23.4,"s":23.8},{"x":422,"c":19,"s":19.5},{"x":447,"c":15.5,"s":16},{"x":473,"c":15.8,"s":16.5},{"x":501,"c":16.3,"s":17},{"x":531,"c":17.5,"s":18},
      {"x":562,"c":17.5,"s":18},{"x":596,"c":15,"s":15.5},{"x":631,"c":12,"s":12.5},{"x":668,"c":11,"s":11.5},{"x":708,"c":10.5,"s":11},{"x":750,"c":11.5,"s":12},{"x":794,"c":12,"s":12.5},{"x":841,"c":10.2,"s":11},{"x":891,"c":8.8,"s":9.5},{"x":944,"c":9.5,"s":10},
      {"x":1000,"c":10,"s":10.5},{"x":1059,"c":8.5,"s":9},{"x":1122,"c":7.3,"s":7.5},{"x":1189,"c":6.8,"s":8},{"x":1259,"c":5.8,"s":9},{"x":1334,"c":4.8,"s":10.5},{"x":1413,"c":3.5,"s":12.5},{"x":1496,"c":2.5,"s":15.5},{"x":1585,"c":1.8,"s":18},{"x":1679,"c":1,"s":14},
      {"x":1778,"c":0.5,"s":13.4},{"x":1884,"c":0.5,"s":16},{"x":1995,"c":0.5,"s":14.6},{"x":2113,"c":0.5,"s":13.5},{"x":2239,"c":0.4,"s":17},{"x":2371,"c":0.4,"s":16.5},{"x":2512,"c":0.4,"s":20},{"x":2661,"c":0.4,"s":16},{"x":2818,"c":0.3,"s":13.8},{"x":2985,"c":0.3,"s":15.5},
      {"x":3162,"c":0.3,"s":14.2},{"x":3350,"c":0.3,"s":12.5},{"x":3548,"c":0.3,"s":18.4},{"x":3758,"c":0.3,"s":16},{"x":3981,"c":0.3,"s":14.2},{"x":4217,"c":0.3,"s":16.5},{"x":4467,"c":0.3,"s":18},{"x":4732,"c":0.3,"s":14},{"x":5012,"c":0.3,"s":15.5},{"x":5309,"c":0.3,"s":17},
      {"x":5623,"c":0.2,"s":15},{"x":5957,"c":0.2,"s":12.5},{"x":6310,"c":0.2,"s":13},{"x":6683,"c":0.2,"s":12},{"x":7079,"c":0.1,"s":10},{"x":7499,"c":0.05,"s":8.5},{"x":7943,"c":0,"s":7.1},{"x":8414,"c":0,"s":6},{"x":8913,"c":0,"s":5.4},{"x":9441,"c":0,"s":4},
      {"x":10000,"c":0,"s":2.9},{"x":10593,"c":0,"s":2.5},{"x":11220,"c":0,"s":3.3},{"x":11885,"c":0,"s":2.8},{"x":12589,"c":0,"s":2.5},{"x":13335,"c":0,"s":3},{"x":14125,"c":0,"s":2.1},{"x":14962,"c":0,"s":2.4},{"x":15849,"c":0,"s":3.3},{"x":16788,"c":0,"s":2.8},
      {"x":17783,"c":0,"s":2.5},{"x":18836,"c":0,"s":3.5},{"x":19953,"c":0,"s":5.4},{"x":21135,"c":0,"s":3.5},{"x":22387,"c":0,"s":2.5},{"x":23714,"c":0,"s":3},{"x":25119,"c":0,"s":2.1},{"x":26607,"c":0,"s":2.6},{"x":28184,"c":0,"s":3.3},{"x":29854,"c":0,"s":2.8},
      {"x":31623,"c":0,"s":2.5},{"x":33497,"c":0,"s":3.5},{"x":35481,"c":0,"s":4.6},{"x":37584,"c":0,"s":3.2},{"x":39811,"c":0,"s":2.9},{"x":42170,"c":0,"s":4.2},{"x":44668,"c":0,"s":3.5},{"x":47315,"c":0,"s":2.8},{"x":50119,"c":0,"s":3.8},{"x":53088,"c":0,"s":3},
      {"x":56234,"c":0,"s":2.5},{"x":59566,"c":0,"s":3.5},{"x":63096,"c":0,"s":8.8},{"x":66834,"c":0,"s":3.5},{"x":70795,"c":0,"s":2.1},{"x":74989,"c":0,"s":2.6},{"x":79433,"c":0,"s":2},{"x":84140,"c":0,"s":2.8},{"x":89125,"c":0,"s":2.2},{"x":94406,"c":0,"s":3},
      {"x":100000,"c":0,"s":4.6},{"x":105925,"c":0,"s":2.5},{"x":112202,"c":0,"s":3},{"x":118850,"c":0,"s":3.8},{"x":125893,"c":0,"s":2.9},{"x":133352,"c":0,"s":2.5},{"x":141254,"c":0,"s":3.5},{"x":149624,"c":0,"s":3.2},{"x":158489,"c":0,"s":5.4},{"x":167880,"c":0,"s":3.5},
      {"x":177828,"c":0,"s":2.5},{"x":188365,"c":0,"s":2},{"x":199526,"c":0,"s":1.5},{"x":211349,"c":0,"s":1},{"x":223872,"c":0,"s":0.8},{"x":237137,"c":0,"s":1.2},{"x":251189,"c":0,"s":1.7},{"x":266073,"c":0,"s":1},{"x":281838,"c":0,"s":1},{"x":298538,"c":0,"s":1.3},
      {"x":316228,"c":0,"s":0.8},{"x":334965,"c":0,"s":1.2},{"x":354813,"c":0,"s":1.5},{"x":375837,"c":0,"s":1.8},{"x":398107,"c":0,"s":2.1},{"x":421697,"c":0,"s":1.6},{"x":446684,"c":0,"s":2.5},{"x":473151,"c":0,"s":1.8},{"x":501187,"c":0,"s":2.9},{"x":530884,"c":0,"s":2.4},
      {"x":562341,"c":0,"s":1.3},{"x":595662,"c":0,"s":1.8},{"x":630957,"c":0,"s":2.1},{"x":668344,"c":0,"s":1.8},{"x":707946,"c":0,"s":1.5},{"x":749894,"c":0,"s":1.2},{"x":794328,"c":0,"s":0.8},{"x":841395,"c":0,"s":1.3},{"x":891251,"c":0,"s":1},{"x":944061,"c":0,"s":1.2},
      {"x":1000000,"c":0,"s":14.8}
    ]
  },
  "spacing": 14,
  "vconcat": [
    {
      "title": {"text": "Platelets", "orient": "left", "anchor": "middle", "offset": 2, "dx": 2},
      "spacing": 53.5,
      "bounds": "flush",
      "hconcat": [
        {
          "data": {"name": "p1"}, "width": 240, "height": 239,
          "title": {"text": "CD42b", "dx": 4},
          "encoding": {"x": {"field": "x", "type": "quantitative", "scale": {"type": "log", "domain": [100, 1000000], "nice": false},
            "axis": {"title": "FITC-A", "values": [100,200,300,400,500,600,700,800,900,1000,2000,3000,4000,5000,6000,7000,8000,9000,10000,20000,30000,40000,50000,60000,70000,80000,90000,100000,200000,300000,400000,500000,600000,700000,800000,900000,1000000],
              "labelExpr": "datum.value == 100 ? '10²' : datum.value == 1000 ? '10³' : datum.value == 10000 ? '10⁴' : datum.value == 100000 ? '10⁵' : datum.value == 1000000 ? '10⁶' : ''",
              "tickSize": {"condition": {"test": "datum.value == 100 || datum.value == 1000 || datum.value == 10000 || datum.value == 100000 || datum.value == 1000000", "value": 6}, "value": 3}}}},
          "layer": [
            {"mark": {"type": "area", "color": "#ff0a78", "opacity": 1, "fillOpacity": 1, "line": {"color": "#000", "strokeWidth": 0.9}},
             "encoding": {"y": {"field": "s", "type": "quantitative", "scale": {"domain": [0, 30], "nice": false},
               "axis": {"title": "Count", "values": [0,2,4,6,8,10,12,14,16,18,20,22,24,26,28,30], "labelExpr": "datum.value % 10 == 0 ? datum.label : ''",
                 "tickSize": {"condition": {"test": "datum.value % 10 == 0", "value": 5}, "value": 3}}}}},
            {"mark": {"type": "area", "color": "#7777ee", "opacity": 1, "fillOpacity": 1, "line": {"color": "#000", "strokeWidth": 0.9}},
             "encoding": {"y": {"field": "c", "type": "quantitative", "scale": {"domain": [0, 30], "nice": false},
               "axis": {"title": "Count", "values": [0,2,4,6,8,10,12,14,16,18,20,22,24,26,28,30], "labelExpr": "datum.value % 10 == 0 ? datum.label : ''",
                 "tickSize": {"condition": {"test": "datum.value % 10 == 0", "value": 5}, "value": 3}}}}}
          ]
        },
        {
          "data": {"name": "p2"}, "width": 240, "height": 239,
          "title": {"text": "GPVI", "dx": -8},
          "encoding": {"x": {"field": "x", "type": "quantitative", "scale": {"type": "log", "domain": [100, 1000000], "nice": false},
            "axis": {"title": "PE-A", "values": [100,200,300,400,500,600,700,800,900,1000,2000,3000,4000,5000,6000,7000,8000,9000,10000,20000,30000,40000,50000,60000,70000,80000,90000,100000,200000,300000,400000,500000,600000,700000,800000,900000,1000000],
              "labelExpr": "datum.value == 100 ? '10²' : datum.value == 1000 ? '10³' : datum.value == 10000 ? '10⁴' : datum.value == 100000 ? '10⁵' : datum.value == 1000000 ? '10⁶' : ''",
              "tickSize": {"condition": {"test": "datum.value == 100 || datum.value == 1000 || datum.value == 10000 || datum.value == 100000 || datum.value == 1000000", "value": 6}, "value": 3}}}},
          "layer": [
            {"mark": {"type": "area", "color": "#ff0a78", "opacity": 1, "fillOpacity": 1, "line": {"color": "#000", "strokeWidth": 0.9}},
             "encoding": {"y": {"field": "s", "type": "quantitative", "scale": {"domain": [0, 31.2], "nice": false},
               "axis": {"title": "Count", "values": [0,2,4,6,8,10,12,14,16,18,20,22,24,26,28,30], "labelExpr": "datum.value % 10 == 0 ? datum.label : ''",
                 "tickSize": {"condition": {"test": "datum.value % 10 == 0", "value": 5}, "value": 3}}}}},
            {"mark": {"type": "area", "color": "#7777ee", "opacity": 1, "fillOpacity": 1, "line": {"color": "#000", "strokeWidth": 0.9}},
             "encoding": {"y": {"field": "c", "type": "quantitative", "scale": {"domain": [0, 31.2], "nice": false},
               "axis": {"title": "Count", "values": [0,2,4,6,8,10,12,14,16,18,20,22,24,26,28,30], "labelExpr": "datum.value % 10 == 0 ? datum.label : ''",
                 "tickSize": {"condition": {"test": "datum.value % 10 == 0", "value": 5}, "value": 3}}}}}
          ]
        },
        {
          "data": {"name": "p3"}, "width": 240, "height": 239,
          "title": {"text": "CD41", "dx": 2},
          "encoding": {"x": {"field": "x", "type": "quantitative", "scale": {"type": "log", "domain": [100, 1000000], "nice": false},
            "axis": {"title": "APC-A", "values": [100,200,300,400,500,600,700,800,900,1000,2000,3000,4000,5000,6000,7000,8000,9000,10000,20000,30000,40000,50000,60000,70000,80000,90000,100000,200000,300000,400000,500000,600000,700000,800000,900000,1000000],
              "labelExpr": "datum.value == 100 ? '10²' : datum.value == 1000 ? '10³' : datum.value == 10000 ? '10⁴' : datum.value == 100000 ? '10⁵' : datum.value == 1000000 ? '10⁶' : ''",
              "tickSize": {"condition": {"test": "datum.value == 100 || datum.value == 1000 || datum.value == 10000 || datum.value == 100000 || datum.value == 1000000", "value": 6}, "value": 3}}}},
          "layer": [
            {"mark": {"type": "area", "color": "#ff0a78", "opacity": 1, "fillOpacity": 1, "line": {"color": "#000", "strokeWidth": 0.9}},
             "encoding": {"y": {"field": "s", "type": "quantitative", "scale": {"domain": [0, 36], "nice": false},
               "axis": {"title": "Count", "values": [0,2,4,6,8,10,12,14,16,18,20,22,24,26,28,30,32,34,36], "labelExpr": "datum.value % 10 == 0 ? datum.label : ''",
                 "tickSize": {"condition": {"test": "datum.value % 10 == 0", "value": 5}, "value": 3}}}}},
            {"mark": {"type": "area", "color": "#7777ee", "opacity": 1, "fillOpacity": 1, "line": {"color": "#000", "strokeWidth": 0.9}},
             "encoding": {"y": {"field": "c", "type": "quantitative", "scale": {"domain": [0, 36], "nice": false},
               "axis": {"title": "Count", "values": [0,2,4,6,8,10,12,14,16,18,20,22,24,26,28,30,32,34,36], "labelExpr": "datum.value % 10 == 0 ? datum.label : ''",
                 "tickSize": {"condition": {"test": "datum.value % 10 == 0", "value": 5}, "value": 3}}}}}
          ]
        }
      ]
    },
    {
      "title": {"text": "P-CD34", "orient": "left", "anchor": "middle", "offset": 2, "dx": 20},
      "spacing": 53.5,
      "bounds": "flush",
      "hconcat": [
        {
          "data": {"name": "p4"}, "width": 240, "height": 240,
          "encoding": {"x": {"field": "x", "type": "quantitative", "scale": {"type": "log", "domain": [100, 1000000], "nice": false},
            "axis": {"title": "FITC-A", "values": [100,200,300,400,500,600,700,800,900,1000,2000,3000,4000,5000,6000,7000,8000,9000,10000,20000,30000,40000,50000,60000,70000,80000,90000,100000,200000,300000,400000,500000,600000,700000,800000,900000,1000000],
              "labelExpr": "datum.value == 100 ? '10²' : datum.value == 1000 ? '10³' : datum.value == 10000 ? '10⁴' : datum.value == 100000 ? '10⁵' : datum.value == 1000000 ? '10⁶' : ''",
              "tickSize": {"condition": {"test": "datum.value == 100 || datum.value == 1000 || datum.value == 10000 || datum.value == 100000 || datum.value == 1000000", "value": 6}, "value": 3}}}},
          "layer": [
            {"mark": {"type": "area", "color": "#7d1473", "opacity": 1, "fillOpacity": 1, "line": {"color": "#000", "strokeWidth": 0.9}},
             "encoding": {"y": {"field": "s", "type": "quantitative", "scale": {"domain": [0, 30], "nice": false},
               "axis": {"title": "Count", "values": [0,2,4,6,8,10,12,14,16,18,20,22,24,26,28,30], "labelExpr": "datum.value % 10 == 0 ? datum.label : ''",
                 "tickSize": {"condition": {"test": "datum.value % 10 == 0", "value": 5}, "value": 3}}}}},
            {"mark": {"type": "area", "color": "#7777ee", "opacity": 1, "fillOpacity": 1, "line": {"color": "#000", "strokeWidth": 0.9}},
             "encoding": {"y": {"field": "c", "type": "quantitative", "scale": {"domain": [0, 30], "nice": false},
               "axis": {"title": "Count", "values": [0,2,4,6,8,10,12,14,16,18,20,22,24,26,28,30], "labelExpr": "datum.value % 10 == 0 ? datum.label : ''",
                 "tickSize": {"condition": {"test": "datum.value % 10 == 0", "value": 5}, "value": 3}}}}}
          ]
        },
        {
          "data": {"name": "p5"}, "width": 240, "height": 240,
          "encoding": {"x": {"field": "x", "type": "quantitative", "scale": {"type": "log", "domain": [100, 1000000], "nice": false},
            "axis": {"title": "PE-A", "values": [100,200,300,400,500,600,700,800,900,1000,2000,3000,4000,5000,6000,7000,8000,9000,10000,20000,30000,40000,50000,60000,70000,80000,90000,100000,200000,300000,400000,500000,600000,700000,800000,900000,1000000],
              "labelExpr": "datum.value == 100 ? '10²' : datum.value == 1000 ? '10³' : datum.value == 10000 ? '10⁴' : datum.value == 100000 ? '10⁵' : datum.value == 1000000 ? '10⁶' : ''",
              "tickSize": {"condition": {"test": "datum.value == 100 || datum.value == 1000 || datum.value == 10000 || datum.value == 100000 || datum.value == 1000000", "value": 6}, "value": 3}}}},
          "layer": [
            {"mark": {"type": "area", "color": "#7d1473", "opacity": 1, "fillOpacity": 1, "line": {"color": "#000", "strokeWidth": 0.9}},
             "encoding": {"y": {"field": "s", "type": "quantitative", "scale": {"domain": [0, 30], "nice": false},
               "axis": {"title": "Count", "values": [0,2,4,6,8,10,12,14,16,18,20,22,24,26,28,30], "labelExpr": "datum.value % 10 == 0 ? datum.label : ''",
                 "tickSize": {"condition": {"test": "datum.value % 10 == 0", "value": 5}, "value": 3}}}}},
            {"mark": {"type": "area", "color": "#7777ee", "opacity": 1, "fillOpacity": 1, "line": {"color": "#000", "strokeWidth": 0.9}},
             "encoding": {"y": {"field": "c", "type": "quantitative", "scale": {"domain": [0, 30], "nice": false},
               "axis": {"title": "Count", "values": [0,2,4,6,8,10,12,14,16,18,20,22,24,26,28,30], "labelExpr": "datum.value % 10 == 0 ? datum.label : ''",
                 "tickSize": {"condition": {"test": "datum.value % 10 == 0", "value": 5}, "value": 3}}}}}
          ]
        },
        {
          "data": {"name": "p6"}, "width": 240, "height": 240,
          "encoding": {"x": {"field": "x", "type": "quantitative", "scale": {"type": "log", "domain": [100, 1000000], "nice": false},
            "axis": {"title": "APC-A", "values": [100,200,300,400,500,600,700,800,900,1000,2000,3000,4000,5000,6000,7000,8000,9000,10000,20000,30000,40000,50000,60000,70000,80000,90000,100000,200000,300000,400000,500000,600000,700000,800000,900000,1000000],
              "labelExpr": "datum.value == 100 ? '10²' : datum.value == 1000 ? '10³' : datum.value == 10000 ? '10⁴' : datum.value == 100000 ? '10⁵' : datum.value == 1000000 ? '10⁶' : ''",
              "tickSize": {"condition": {"test": "datum.value == 100 || datum.value == 1000 || datum.value == 10000 || datum.value == 100000 || datum.value == 1000000", "value": 6}, "value": 3}}}},
          "layer": [
            {"mark": {"type": "area", "color": "#7d1473", "opacity": 1, "fillOpacity": 1, "line": {"color": "#000", "strokeWidth": 0.9}},
             "encoding": {"y": {"field": "s", "type": "quantitative", "scale": {"domain": [0, 30], "nice": false},
               "axis": {"title": "Count", "values": [0,2,4,6,8,10,12,14,16,18,20,22,24,26,28,30], "labelExpr": "datum.value % 10 == 0 ? datum.label : ''",
                 "tickSize": {"condition": {"test": "datum.value % 10 == 0", "value": 5}, "value": 3}}}}},
            {"mark": {"type": "area", "color": "#7777ee", "opacity": 1, "fillOpacity": 1, "line": {"color": "#000", "strokeWidth": 0.9}},
             "encoding": {"y": {"field": "c", "type": "quantitative", "scale": {"domain": [0, 30], "nice": false},
               "axis": {"title": "Count", "values": [0,2,4,6,8,10,12,14,16,18,20,22,24,26,28,30], "labelExpr": "datum.value % 10 == 0 ? datum.label : ''",
                 "tickSize": {"condition": {"test": "datum.value % 10 == 0", "value": 5}, "value": 3}}}}}
          ]
        }
      ]
    }
  ]
}
